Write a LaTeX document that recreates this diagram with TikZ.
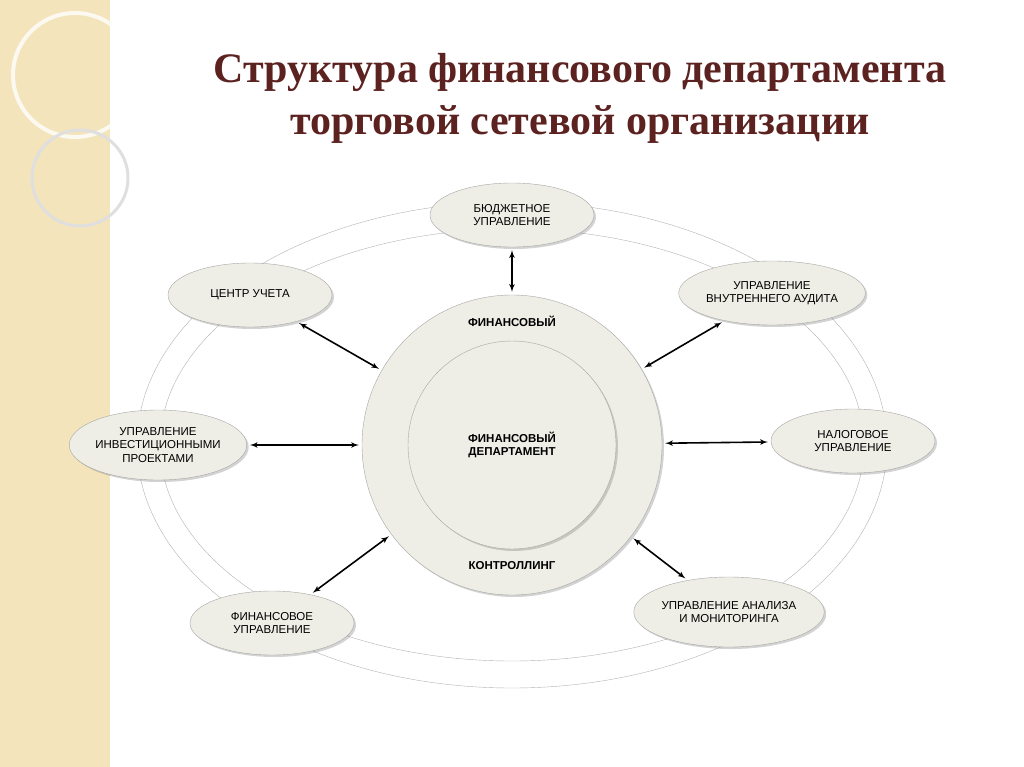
\documentclass[tikz,border=0pt]{standalone}
\usepackage{fontspec}
\setmainfont{Liberation Serif}
\newfontfamily\lblfont{Liberation Sans}
\usetikzlibrary{shapes,arrows,shadows}
\definecolor{strip}{HTML}{F3E4BC}
\definecolor{titlec}{HTML}{5C2220}
\definecolor{bubble}{HTML}{EEEEE6}
\tikzstyle{unit} = [ellipse, draw=gray!70, fill=bubble, minimum width=164pt,
    minimum height=64pt, inner sep=0pt, align=center, font=\lblfont\fontsize{11.5}{13.5}\selectfont,
    drop shadow={shadow xshift=2pt, shadow yshift=-2pt, opacity=0.35}]
\tikzstyle{line} = [draw, line width=1.6pt, latex'-latex', shorten >=3pt, shorten <=3pt]
\begin{document}
\begin{tikzpicture}[x=1pt, y=-1pt]
    \useasboundingbox (0,0) rectangle (1024,767);
    % left strip
    \fill[strip] (0,0) rectangle (110,767);
    \draw[white, line width=4pt, opacity=0.8] (75,75) circle (62);
    \draw[gray!25, line width=3pt] (80,178) circle (48);
    % title
    \node[font=\fontsize{42}{52}\selectfont\bfseries, text=titlec, align=center] (title) at (580,98)
        {Структура финансового департамента\\торговой сетевой организации};
    % rings
    \draw[gray!60] (512,445) ellipse (375 and 243);
    \draw[gray!60] (512,445) ellipse (352 and 216);
    \node[circle, draw=gray!70, fill=bubble, minimum size=300pt,
        drop shadow={shadow xshift=2pt, shadow yshift=-2pt, opacity=0.35}] (dept) at (512,445) {};
    \node[circle, draw=gray!70, fill=bubble, minimum size=208pt, align=center,
        font=\lblfont\fontsize{11.5}{13.5}\selectfont\bfseries,
        drop shadow={shadow xshift=2pt, shadow yshift=-2pt, opacity=0.35}] (core) at (512,445)
        {ФИНАНСОВЫЙ\\ДЕПАРТАМЕНТ};
    \node[font=\lblfont\fontsize{11.5}{13.5}\selectfont\bfseries] (top) at (512,321) {ФИНАНСОВЫЙ};
    \node[font=\lblfont\fontsize{11.5}{13.5}\selectfont\bfseries] (bottom) at (512,566) {КОНТРОЛЛИНГ};
    % units
    \node[unit] (budget) at (512,215) {БЮДЖЕТНОЕ\\УПРАВЛЕНИЕ};
    \node[unit] (account) at (250,295) {ЦЕНТР УЧЕТА};
    \node[unit] (audit) at (772,293) {УПРАВЛЕНИЕ\\ВНУТРЕННЕГО АУДИТА};
    \node[unit, minimum height=70pt] (invest) at (158,445) {УПРАВЛЕНИЕ\\ИНВЕСТИЦИОННЫМИ\\ПРОЕКТАМИ};
    \node[unit] (tax) at (853,441) {НАЛОГОВОЕ\\УПРАВЛЕНИЕ};
    \node[unit] (finman) at (272,623) {ФИНАНСОВОЕ\\УПРАВЛЕНИЕ};
    \node[unit, minimum height=70pt] (analysis) at (729,612) {УПРАВЛЕНИЕ АНАЛИЗА\\И МОНИТОРИНГА};

    \path[line] (budget) -- (dept);
    \path[line] (account) -- (dept);
    \path[line] (audit) -- (dept);
    \path[line] (invest) -- (dept);
    \path[line] (tax) -- (dept);
    \path[line] (finman) -- (dept);
    \path[line] (analysis) -- (dept);
\end{tikzpicture}
\end{document}
